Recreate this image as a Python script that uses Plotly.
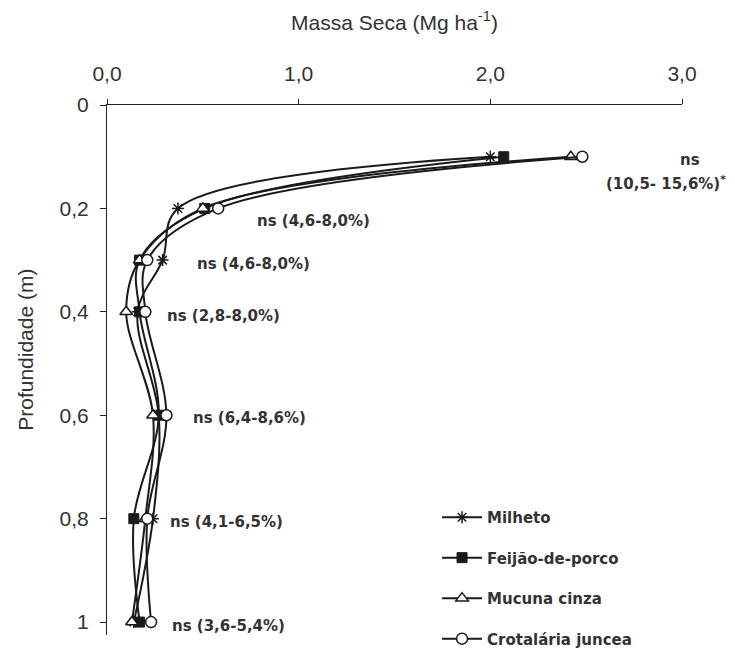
import plotly.graph_objects as go

depth = [0.1, 0.2, 0.3, 0.4, 0.6, 0.8, 1.0]
milheto = [2.00, 0.37, 0.29, 0.16, 0.27, 0.24, 0.14]
feijao = [2.07, 0.51, 0.17, 0.17, 0.27, 0.14, 0.17]
mucuna = [2.42, 0.50, 0.17, 0.10, 0.24, 0.20, 0.13]
crotalaria = [2.48, 0.58, 0.21, 0.20, 0.31, 0.21, 0.23]

x_ticks = [0, 1, 2, 3]
x_ticklabels = ["0,0", "1,0", "2,0", "3,0"]
y_ticks = [0, 0.2, 0.4, 0.6, 0.8, 1.0]
y_ticklabels = ["0", "0,2", "0,4", "0,6", "0,8", "1"]

# notes beside each depth (x in data units of Massa Seca, y in depth)
notes_text = ["ns (4,6-8,0%)", "ns (4,6-8,0%)",
              "ns (2,8-8,0%)", "ns (6,4-8,6%)", "ns (4,1-6,5%)", "ns (3,6-5,4%)"]
notes_x = [0.77, 0.46, 0.30, 0.44, 0.32, 0.33]
notes_y = [0.224, 0.307, 0.408, 0.605, 0.806, 1.007]
# note for the 0.1 m depth, placed at the right edge (outside the x range)
top_note_text = ["ns", "(10,5- 15,6%)<sup>*</sup>"]
top_note_xpaper = [1.014, 0.972]
top_note_y = [0.106, 0.150]

FONT = "Liberation Sans, Arial, sans-serif"
NOTE_FONT = "DejaVu Sans, sans-serif"
TXT = "#333333"
LINE = "#1a1a1a"

series = [
    ("Milheto", milheto, dict(symbol="asterisk-open", size=10, color=LINE, line=dict(color=LINE, width=1.5))),
    ("Feijão-de-porco", feijao, dict(symbol="square", size=10, color=LINE, line=dict(color=LINE, width=1))),
    ("Mucuna cinza", mucuna, dict(symbol="triangle-up", size=11, color="white", line=dict(color=LINE, width=1.5))),
    ("Crotalária juncea", crotalaria, dict(symbol="circle", size=11, color="white", line=dict(color=LINE, width=1.5))),
]

fig = go.Figure()
for name, vals, mk in series:
    fig.add_trace(go.Scatter(
        x=vals, y=depth, name=name, mode="lines+markers",
        line=dict(color=LINE, width=2, shape="spline", smoothing=1),
        marker=mk, legendgroup=name,
    ))

note_font = dict(family=NOTE_FONT, size=15, color=TXT, weight="bold")
for t, xv, yv in zip(notes_text, notes_x, notes_y):
    fig.add_annotation(x=xv, y=yv, text=t, showarrow=False,
                       xanchor="left", yanchor="middle", font=note_font)
for t, xv, yv in zip(top_note_text, top_note_xpaper, top_note_y):
    fig.add_annotation(xref="paper", x=xv, y=yv, text=t, showarrow=False,
                       xanchor="center", yanchor="middle", font=note_font)

fig.add_annotation(
    xref="paper", yref="paper", x=-0.141, y=0.538, text="Profundidade (m)",
    textangle=-90, showarrow=False, xanchor="center", yanchor="middle",
    font=dict(family=FONT, size=21, color=TXT),
)

# page body has an 8px default margin, so the figure is sized to fit the window
fig.update_layout(
    width=727, height=644,
    margin=dict(l=99, r=53, t=97, b=17, autoexpand=False),
    paper_bgcolor="white", plot_bgcolor="white",
    font=dict(family=FONT, size=21, color=TXT),
    showlegend=True,
    legend=dict(x=0.574, y=0.253, xanchor="left", yanchor="top",
                bgcolor="rgba(0,0,0,0)",
                font=dict(family=NOTE_FONT, size=15, color=TXT, weight="bold"),
                tracegroupgap=18, itemwidth=40),
    xaxis=dict(
        side="top", range=[0, 3], tickvals=x_ticks, ticktext=x_ticklabels,
        showgrid=False, zeroline=False, showline=True, linecolor="#222", linewidth=1,
        ticks="outside", ticklen=5, tickcolor="#222", automargin=False,
        ticklabelstandoff=10,
        title=dict(text="Massa Seca (Mg ha<sup>-1</sup>)", standoff=25,
                   font=dict(family=FONT, size=21, color=TXT)),
        tickfont=dict(family=FONT, size=21, color=TXT),
    ),
    yaxis=dict(
        range=[1.025, 0], tickvals=y_ticks, ticktext=y_ticklabels,
        showgrid=False, zeroline=False, showline=True, linecolor="#222", linewidth=1,
        ticks="outside", ticklen=6, tickcolor="#222", automargin=False,
        ticklabelstandoff=7,
        tickfont=dict(family=FONT, size=21, color=TXT),
    ),
)

fig.write_html("out.html")
